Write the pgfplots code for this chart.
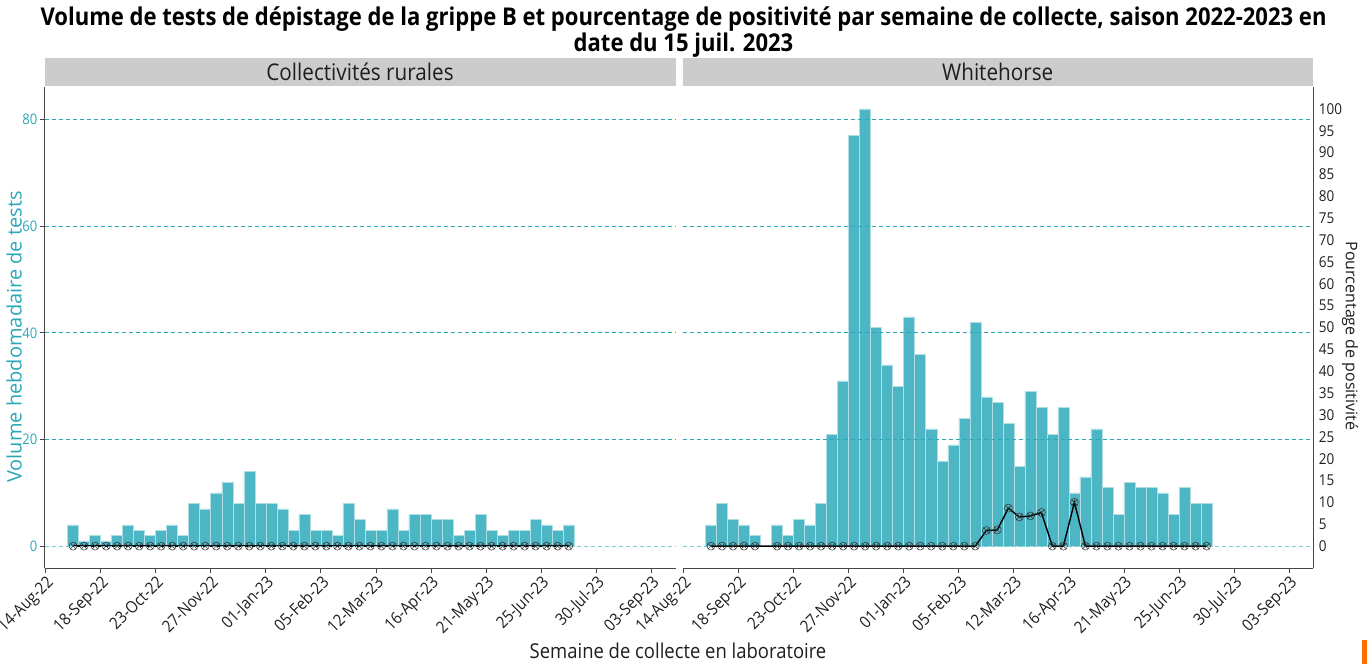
\documentclass[border=0pt]{standalone}
\usepackage{fontspec}
\setmainfont{Open Sans}[FakeStretch=0.9]
\newfontfamily\rotfont{Open Sans}
\usepackage{pgfplots}
\usepackage{pgfplotstable}
\pgfplotsset{compat=1.18}
\usetikzlibrary{plotmarks}
\definecolor{barc}{RGB}{77,182,196}
\definecolor{barline}{RGB}{175,222,228}
\definecolor{tealtxt}{RGB}{42,168,184}
\definecolor{gridc}{RGB}{45,168,182}
\definecolor{gridz}{RGB}{125,205,215}
\definecolor{stripc}{RGB}{204,204,204}
\definecolor{axc}{RGB}{70,70,70}
\definecolor{txtc}{RGB}{30,30,30}

% x = days since 14-Aug-2022 (centre of each collection week)
\pgfplotstableread{
x vol pct
17.5 4 0
24.5 1 0
31.5 2 0
38.5 1 0
45.5 2 0
52.5 4 0
59.5 3 0
66.5 2 0
73.5 3 0
80.5 4 0
87.5 2 0
94.5 8 0
101.5 7 0
108.5 10 0
115.5 12 0
122.5 8 0
129.5 14 0
136.5 8 0
143.5 8 0
150.5 7 0
157.5 3 0
164.5 6 0
171.5 3 0
178.5 3 0
185.5 2 0
192.5 8 0
199.5 5 0
206.5 3 0
213.5 3 0
220.5 7 0
227.5 3 0
234.5 6 0
241.5 6 0
248.5 5 0
255.5 5 0
262.5 2 0
269.5 3 0
276.5 6 0
283.5 3 0
290.5 2 0
297.5 3 0
304.5 3 0
311.5 5 0
318.5 4 0
325.5 3 0
332.5 4 0
}\ruraltab

\pgfplotstableread{
x vol
17.5 4
24.5 8
31.5 5
38.5 4
45.5 2
52.5 0
59.5 4
66.5 2
73.5 5
80.5 4
87.5 8
94.5 21
101.5 31
108.5 77
115.5 82
122.5 41
129.5 34
136.5 30
143.5 43
150.5 36
157.5 22
164.5 16
171.5 19
178.5 24
185.5 42
192.5 28
199.5 27
206.5 23
213.5 15
220.5 29
227.5 26
234.5 21
241.5 26
248.5 10
255.5 13
262.5 22
269.5 11
276.5 6
283.5 12
290.5 11
297.5 11
304.5 10
311.5 6
318.5 11
325.5 8
332.5 8
}\whvoltab

\pgfplotstableread{
x pct
17.5 0
24.5 0
31.5 0
38.5 0
45.5 0
59.5 0
66.5 0
73.5 0
80.5 0
87.5 0
94.5 0
101.5 0
108.5 0
115.5 0
122.5 0
129.5 0
136.5 0
143.5 0
150.5 0
157.5 0
164.5 0
171.5 0
178.5 0
185.5 0
192.5 3.57
199.5 3.70
206.5 8.70
213.5 6.67
220.5 6.90
227.5 7.69
234.5 0
241.5 0
248.5 10
255.5 0
262.5 0
269.5 0
276.5 0
283.5 0
290.5 0
297.5 0
304.5 0
311.5 0
318.5 0
325.5 0
332.5 0
}\whpcttab

\pgfplotsset{
  panel/.style={
    scale only axis, width=630.9pt, height=481pt,
    xmin=-0.6, xmax=400.4, ymin=-4.1, ymax=86.1,
    xtick={0,35,70,105,140,175,210,245,280,315,350,385},
    xticklabels={14-Aug-22,18-Sep-22,23-Oct-22,27-Nov-22,01-Jan-23,05-Feb-23,12-Mar-23,16-Apr-23,21-May-23,25-Jun-23,30-Jul-23,03-Sep-23},
    xticklabel style={rotate=45, anchor=north east, font=\fontsize{16.5}{18}\selectfont, text=txtc, inner sep=1pt},
    tick align=outside, major tick length=5pt,
    tick style={axc, line width=0.8pt},
    axis line style={axc, line width=1pt},
    /pgf/number format/assume math mode=true,
    axis on top,
    ytick={20,40,60,80},
    ymajorgrids,
    major grid style={gridc, dash pattern=on 4pt off 3pt, line width=0.9pt},
    extra y ticks={0},
    extra y tick style={grid=major, major grid style={gridz, dash pattern=on 4pt off 3pt, line width=1.1pt}},
    axis x line*=bottom,
  },
  bars/.style={ybar, bar width=7, bar shift=0pt, fill=barc, draw=barline, line width=0.5pt},
  posline/.style={black, line width=1.4pt, mark=otimes, mark size=4pt, mark options={line width=0.5pt, black!80, solid}},
}

\begin{document}
\begin{tikzpicture}[x=1pt,y=1pt]
\useasboundingbox (0,0) rectangle (1367,664);

% title
\node[font=\bfseries\fontsize{24.5}{25.5}\selectfont, text=black, align=center] at (683.5,632)
  {Volume de tests de dépistage de la grippe B et pourcentage de positivité par semaine de collecte, saison 2022-2023 en\\date du 15 juil. 2023};

% strips
\fill[stripc] (44.6,578) rectangle (675.5,606);
\fill[stripc] (682.5,578) rectangle (1313,606);
\node[font=\fontsize{23}{24}\selectfont, text=txtc] at (360,592) {Collectivités rurales};
\node[font=\fontsize{23}{24}\selectfont, text=txtc] at (997.7,592) {Whitehorse};

% left panel
\begin{axis}[panel, at={(44.6pt,96pt)}, anchor=south west,
  axis y line*=left,
  yticklabel style={text=tealtxt, font=\fontsize{14.5}{16}\selectfont, inner sep=2pt},
]
\addplot[bars] table[x=x, y=vol] {\ruraltab};
\addplot[posline] table[x=x, y=pct] {\ruraltab};
\end{axis}

% right panel: volume
\begin{axis}[panel, at={(682.5pt,96pt)}, anchor=south west,
  axis y line*=right,
  yticklabels={}, extra y tick labels={},
  ytick style={draw=none},
]
\addplot[bars] table[x=x, y=vol] {\whvoltab};
\end{axis}

% right panel: percentage
\begin{axis}[scale only axis, width=630.9pt, height=481pt,
  at={(682.5pt,96pt)}, anchor=south west,
  xmin=-0.6, xmax=400.4, ymin=-5, ymax=105,
  axis x line=none, axis y line*=right,
  axis line style={axc, line width=1pt},
  ytick={0,5,...,100}, major tick length=0pt,
  /pgf/number format/assume math mode=true,
  yticklabel style={font=\fontsize{15}{16}\selectfont, text=txtc, anchor=west, xshift=2pt},
]
\addplot[posline] table[x=x, y=pct] {\whpcttab};
\end{axis}

% axis titles
\node[font=\fontsize{20.5}{22}\selectfont, text=txtc] at (678,13) {Semaine de collecte en laboratoire};
\node[font=\rotfont\fontsize{20}{22}\selectfont, text=tealtxt, rotate=90] at (14,327) {Volume hebdomadaire de tests};
\node[font=\rotfont\fontsize{16}{18}\selectfont, text=txtc, rotate=-90] at (1350,328) {Pourcentage de positivité};

% small corner mark
\fill[orange!85!red] (1362,0) rectangle (1367,24);
\end{tikzpicture}
\end{document}
